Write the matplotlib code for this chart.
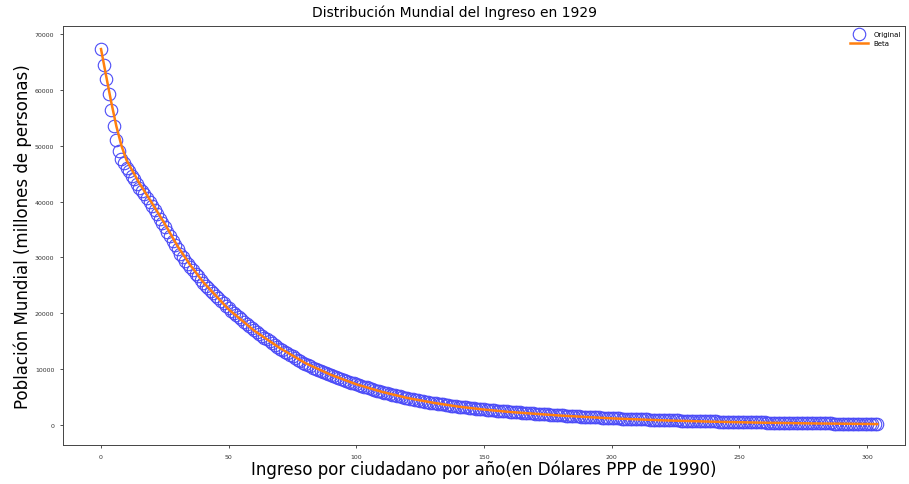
import numpy as np
import matplotlib
matplotlib.use("Agg")
import matplotlib.pyplot as plt

# Datos (ingreso -> población)
poblacion = [
    67300, 64500, 61900, 59200, 56400, 53600, 51100, 49100, 47700, 46900,
    46100, 45400, 44600, 44000, 43200, 42500, 41900, 41300, 40600, 40000,
    39300, 38500, 37700, 36900, 36200, 35400, 34600, 33800, 33000, 32300,
    31500, 30700, 30000, 29400, 28800, 28300, 27700, 27100, 26600, 26000,
    25400, 24900, 24500, 24000, 23600, 23100, 22700, 22200, 21800, 21300,
    20900, 20500, 20100, 19700, 19300, 18900, 18500, 18100, 17800, 17400,
    17000, 16650, 16300, 15980, 15650, 15320, 15000, 14680, 14360, 14030,
    13700, 13420, 13130, 12850, 12570, 12290, 12010, 11730, 11450, 11180,
    10900, 10700, 10500, 10300, 10100, 9900, 9700, 9500, 9300, 9100,
    8900, 8740, 8580, 8420, 8260, 8100, 7940, 7780, 7620, 7460,
    7300, 7160, 7020, 6880, 6740, 6600, 6460, 6320, 6180, 6040,
    5900, 5790, 5680, 5570, 5460, 5350, 5240, 5130, 5020, 4910,
    4800, 4715, 4630, 4545, 4460, 4375, 4290, 4205, 4120, 4035,
    3950, 3885, 3820, 3755, 3690, 3625, 3560, 3495, 3430, 3365,
    3300, 3250, 3200, 3150, 3100, 3050, 3000, 2950, 2900, 2850,
    2800, 2760, 2720, 2680, 2640, 2600, 2560, 2520, 2480, 2440,
    2400, 2365, 2330, 2295, 2260, 2225, 2190, 2155, 2120, 2085,
    2050, 2020, 1990, 1960, 1930, 1900, 1870, 1840, 1810, 1780,
    1750, 1723, 1696, 1669, 1642, 1615, 1588, 1561, 1534, 1507,
    1480, 1457, 1434, 1411, 1388, 1365, 1342, 1319, 1296, 1273,
    1250, 1232, 1214, 1196, 1178, 1160, 1142, 1124, 1106, 1088,
    1070, 1054, 1038, 1022, 1006, 990, 974, 958, 942, 926,
    910, 897, 884, 871, 858, 845, 832, 819, 806, 793,
    780, 768, 756, 744, 732, 720, 708, 696, 684, 672,
    660, 650, 640, 630, 620, 610, 600, 590, 580, 570,
    560, 551, 542, 533, 524, 515, 506, 497, 488, 479,
    470, 462, 454, 446, 438, 430, 422, 414, 406, 398,
    390, 383, 376, 369, 362, 355, 348, 341, 334, 327,
    320, 314, 308, 302, 296, 290, 284, 278, 272, 266,
    260, 254, 248, 242, 236, 230, 224, 218, 212, 206,
    200, 195, 190, 185, 180,
]
ingreso = list(range(len(poblacion)))

# Curva Beta ajustada
ingreso_beta = [0, 2, 4, 6, 8, 10, 15, 20, 25, 30, 35, 40, 50, 60, 70, 80, 90,
                100, 110, 120, 130, 140, 150, 160, 180, 200, 220, 240, 260, 280, 304]
poblacion_beta = [67300, 62500, 57800, 53500, 50000, 47400, 43300, 39700, 36000,
                  32000, 28600, 25600, 20700, 16900, 13800, 11100, 9000,
                  7300, 5950, 4850, 4000, 3300, 2780, 2350, 1700, 1200,
                  850, 600, 420, 290, 180]

xticks = [0, 50, 100, 150, 200, 250, 300]
yticks = [0, 10000, 20000, 30000, 40000, 50000, 60000, 70000]

fig = plt.figure(figsize=(9.09, 4.85), dpi=100)
ax = fig.add_axes([0.069, 0.080, 0.927, 0.864])

ax.plot(ingreso, poblacion, 'o', markerfacecolor='none', markeredgecolor='#4b4bf7',
        markersize=9, markeredgewidth=0.8, label='Original')
ax.plot(ingreso_beta, poblacion_beta, color='#ff7f0e', linewidth=1.8, label='Beta')

ax.set_xlim(-15, 315)
ax.set_ylim(-3600, 71400)
ax.set_xticks(xticks)
ax.set_yticks(yticks)
ax.tick_params(labelsize=4.5, length=2.5, width=0.6, colors='#333333')
for s in ax.spines.values():
    s.set_linewidth(0.7)
    s.set_color('#444444')

# Título centrado en la figura
fig.suptitle('Distribución Mundial del Ingreso en 1929', fontsize=10, y=0.988)
ax.set_xlabel('Ingreso por ciudadano por año(en Dólares PPP de 1990)', fontsize=12, labelpad=1)
ax.set_ylabel('Población Mundial (millones de personas)', fontsize=12, labelpad=2)

ax.legend(loc='upper right', fontsize=5, frameon=False, handlelength=2.5,
          borderaxespad=0.3, markerscale=1.0)

fig.savefig('out.png', dpi=100)
